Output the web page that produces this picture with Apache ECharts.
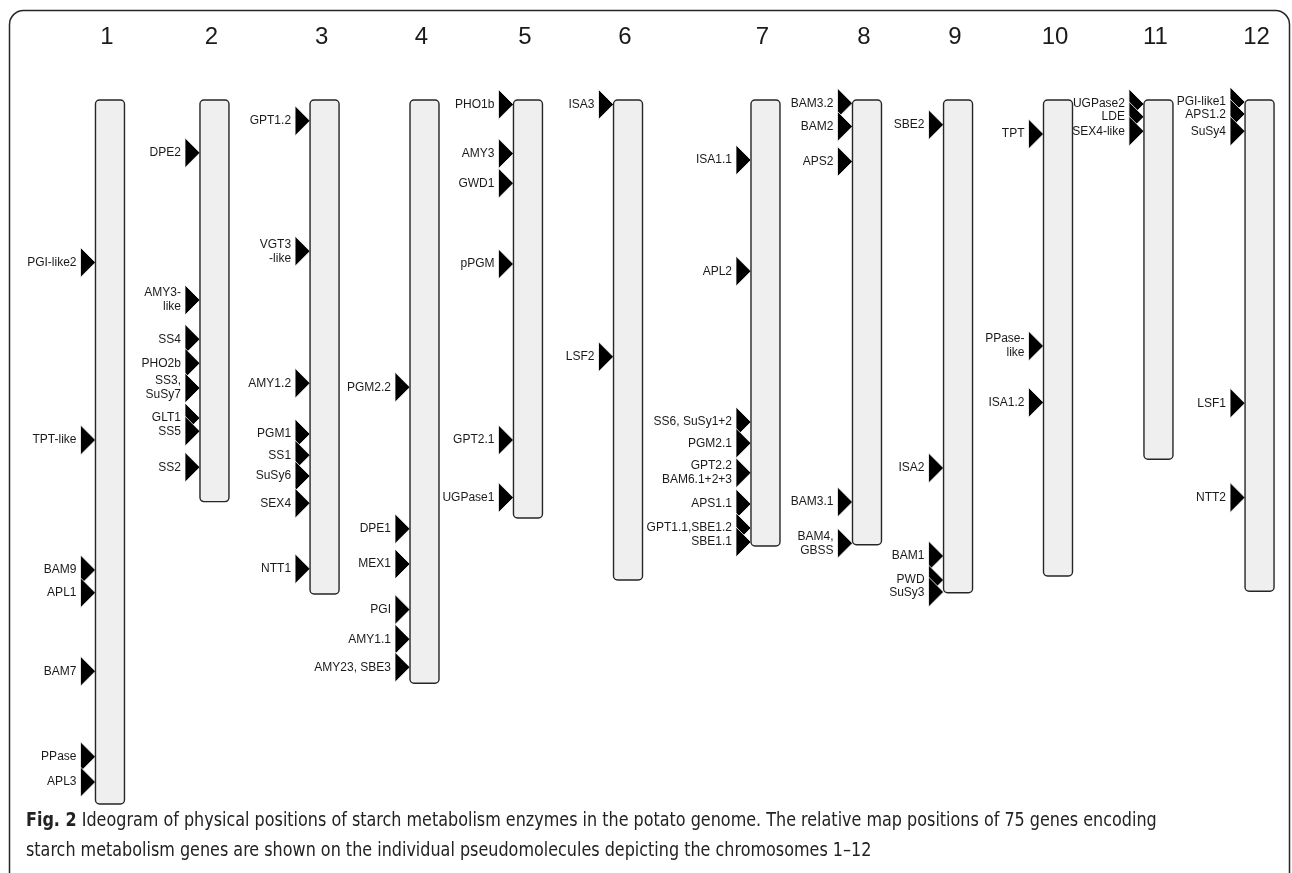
<!DOCTYPE html>
<html>
<head>
<meta charset="utf-8">
<title>Starch metabolism genes on potato chromosomes</title>
<script src="https://cdn.jsdelivr.net/npm/echarts@6/dist/echarts.min.js"></script>
<style>
  html, body { margin: 0; padding: 0; background: #ffffff; }
  #chart { width: 1292px; height: 873px; }
</style>
</head>
<body>
<div id="chart"></div>
<script>
// Chromosome names and pseudomolecule lengths (Mb)
const chromNames = ['1', '2', '3', '4', '5', '6', '7', '8', '9', '10', '11', '12'];
const chromLength = [88.0, 50.2, 61.75, 72.9, 52.25, 60.0, 55.75, 55.6, 61.6, 59.5, 44.9, 61.4];

// Gene labels, the chromosome each lies on, and its position (Mb from the top)
const geneLabel = [
  'PGI-like2', 'TPT-like', 'BAM9', 'APL1', 'BAM7', 'PPase', 'APL3',
  'DPE2', 'AMY3-\nlike', 'SS4', 'PHO2b', 'SS3,\nSuSy7', 'GLT1', 'SS5', 'SS2',
  'GPT1.2', 'VGT3\n-like', 'AMY1.2', 'PGM1', 'SS1', 'SuSy6', 'SEX4', 'NTT1',
  'PGM2.2', 'DPE1', 'MEX1', 'PGI', 'AMY1.1', 'AMY23, SBE3',
  'PHO1b', 'AMY3', 'GWD1', 'pPGM', 'GPT2.1', 'UGPase1',
  'ISA3', 'LSF2',
  'ISA1.1', 'APL2', 'SS6, SuSy1+2', 'PGM2.1', 'GPT2.2\nBAM6.1+2+3', 'APS1.1', 'GPT1.1,SBE1.2', 'SBE1.1',
  'BAM3.2', 'BAM2', 'APS2', 'BAM3.1', 'BAM4,\nGBSS',
  'SBE2', 'ISA2', 'BAM1', 'PWD', 'SuSy3',
  'TPT', 'PPase-\nlike', 'ISA1.2',
  'UGPase2', 'LDE', 'SEX4-like',
  'PGI-like1', 'APS1.2', 'SuSy4', 'LSF1', 'NTT2'
];
const geneChrom = [
  1, 1, 1, 1, 1, 1, 1,
  2, 2, 2, 2, 2, 2, 2, 2,
  3, 3, 3, 3, 3, 3, 3, 3,
  4, 4, 4, 4, 4, 4,
  5, 5, 5, 5, 5, 5,
  6, 6,
  7, 7, 7, 7, 7, 7, 7, 7,
  8, 8, 8, 8, 8,
  9, 9, 9, 9, 9,
  10, 10, 10,
  11, 11, 11,
  12, 12, 12, 12, 12
];
const genePos = [
  20.3, 42.5, 58.75, 61.6, 71.4, 82.1, 85.25,
  6.6, 25.0, 29.9, 32.9, 36.0, 39.75, 41.4, 45.9,
  2.6, 18.9, 35.4, 41.75, 44.4, 47.0, 50.4, 58.6,
  35.9, 53.6, 58.0, 63.7, 67.4, 70.9,
  0.55, 6.7, 10.4, 20.5, 42.5, 49.7,
  0.55, 32.1,
  7.5, 21.4, 40.25, 42.9, 46.6, 50.5, 53.5, 55.25,
  0.4, 3.3, 7.7, 50.25, 55.4,
  3.1, 46.0, 57.0, 60.0, 61.5,
  4.25, 30.75, 37.8,
  0.5, 2.1, 3.9,
  0.25, 1.75, 3.9, 37.9, 49.7
];

// Horizontal slot of each chromosome column on the x axis
const columnX = [1.064, 2.075, 3.14, 4.107, 5.108, 6.076, 7.406, 8.388, 9.269, 10.236, 11.208, 12.186];

const BODY_W = 29;      // chromosome bar width (px)
const TRI_W = 15;       // marker triangle width (px)
const TRI_H = 30;       // marker triangle height (px)
const LABEL_GAP = 4;    // gap between label and triangle (px)
const LINE_H = 13;      // vertical room per label line (px)
const FONT = '"Liberation Sans", Arial, Helvetica, sans-serif';
const CAPTION_FONT = '"DejaVu Sans Condensed", "Liberation Sans Narrow", "Open Sans", sans-serif';

// Spread the labels of one chromosome vertically so they do not collide
function labelPositions(c, api) {
  const items = [];
  for (let i = 0; i < genePos.length; i++) {
    if (geneChrom[i] - 1 !== c) continue;
    const y = api.coord([columnX[c], genePos[i]])[1];
    const lines = geneLabel[i].split('\n').length;
    items.push({ i: i, y: y, h: lines * LINE_H });
  }
  items.sort((a, b) => a.y - b.y);
  const clusters = [];
  items.forEach(it => {
    let cl = { items: [it], top: it.y - it.h / 2, h: it.h };
    while (clusters.length) {
      const prev = clusters[clusters.length - 1];
      if (prev.top + prev.h <= cl.top) break;
      clusters.pop();
      const merged = { items: prev.items.concat(cl.items), h: prev.h + cl.h };
      let off = 0, sum = 0;
      merged.items.forEach(m => { sum += m.y - (off + m.h / 2); off += m.h; });
      merged.top = sum / merged.items.length;
      cl = merged;
    }
    clusters.push(cl);
  });
  const out = {};
  clusters.forEach(cl => {
    let off = 0;
    cl.items.forEach(m => { out[m.i] = cl.top + off + m.h / 2; off += m.h; });
  });
  return out;
}

function renderChromosome(params, api) {
  const c = params.dataIndex;
  const top = api.coord([columnX[c], 0]);
  const bottom = api.coord([columnX[c], api.value(1)]);
  return {
    type: 'group',
    children: [
      {
        type: 'rect',
        shape: { x: top[0] - BODY_W / 2, y: top[1], width: BODY_W, height: bottom[1] - top[1], r: 4 },
        style: { fill: '#efefef', stroke: '#262626', lineWidth: 1.4 }
      },
      {
        type: 'text',
        style: {
          text: chromNames[c], x: top[0] - 3, y: top[1] - 63,
          align: 'center', verticalAlign: 'middle',
          fontSize: 24, fontFamily: FONT, fill: '#1a1a1a'
        }
      }
    ]
  };
}

function renderGene(params, api) {
  const i = params.dataIndex;
  const c = geneChrom[i] - 1;
  const p = api.coord([columnX[c], api.value(1)]);
  const tipX = p[0] - BODY_W / 2;
  const ly = labelPositions(c, api)[i];
  return {
    type: 'group',
    children: [
      {
        type: 'polygon',
        shape: { points: [[tipX, p[1]], [tipX - TRI_W, p[1] - TRI_H / 2], [tipX - TRI_W, p[1] + TRI_H / 2]] },
        style: { fill: '#000000', stroke: '#ffffff', lineWidth: 0.8 }
      },
      {
        type: 'text',
        style: {
          text: geneLabel[i], x: tipX - TRI_W - LABEL_GAP, y: ly,
          align: 'right', verticalAlign: 'middle',
          fontSize: 12, lineHeight: 14, fontFamily: FONT, fill: '#1a1a1a'
        }
      }
    ]
  };
}

const chart = echarts.init(document.getElementById('chart'), null, { renderer: 'canvas' });

chart.setOption({
  backgroundColor: '#ffffff',
  animation: false,
  grid: { left: 0, width: 1292, top: 100, height: 720 },
  xAxis: { type: 'value', min: 0, max: 12.5, show: false },
  yAxis: { type: 'value', min: 0, max: 90, inverse: true, show: false },
  graphic: [
    {
      type: 'rect', z: 0, silent: true,
      shape: { x: 9.5, y: 10.5, width: 1280, height: 920, r: 14 },
      style: { fill: 'none', stroke: '#262626', lineWidth: 1.5 }
    },
    {
      type: 'text', z: 5, x: 26, y: 806, scaleX: 0.936,
      style: {
        text: '{b|Fig. 2} Ideogram of physical positions of starch metabolism enzymes in the potato genome. The relative map positions of 75 genes encoding\nstarch metabolism genes are shown on the individual pseudomolecules depicting the chromosomes 1–12',
        x: 0, y: 0, verticalAlign: 'top',
        fontSize: 19, lineHeight: 30, fill: '#222222', fontFamily: CAPTION_FONT,
        rich: {
          b: { fontSize: 19, lineHeight: 30, fontWeight: 'bold', fill: '#222222', fontFamily: CAPTION_FONT }
        }
      }
    }
  ],
  series: [
    {
      type: 'custom',
      name: 'genes',
      z: 1,
      clip: false,
      silent: true,
      renderItem: renderGene,
      data: genePos.map((v, i) => [i, v])
    },
    {
      type: 'custom',
      name: 'chromosomes',
      z: 2,
      clip: false,
      silent: true,
      renderItem: renderChromosome,
      data: chromLength.map((v, i) => [i, v])
    }
  ]
});
</script>
</body>
</html>
